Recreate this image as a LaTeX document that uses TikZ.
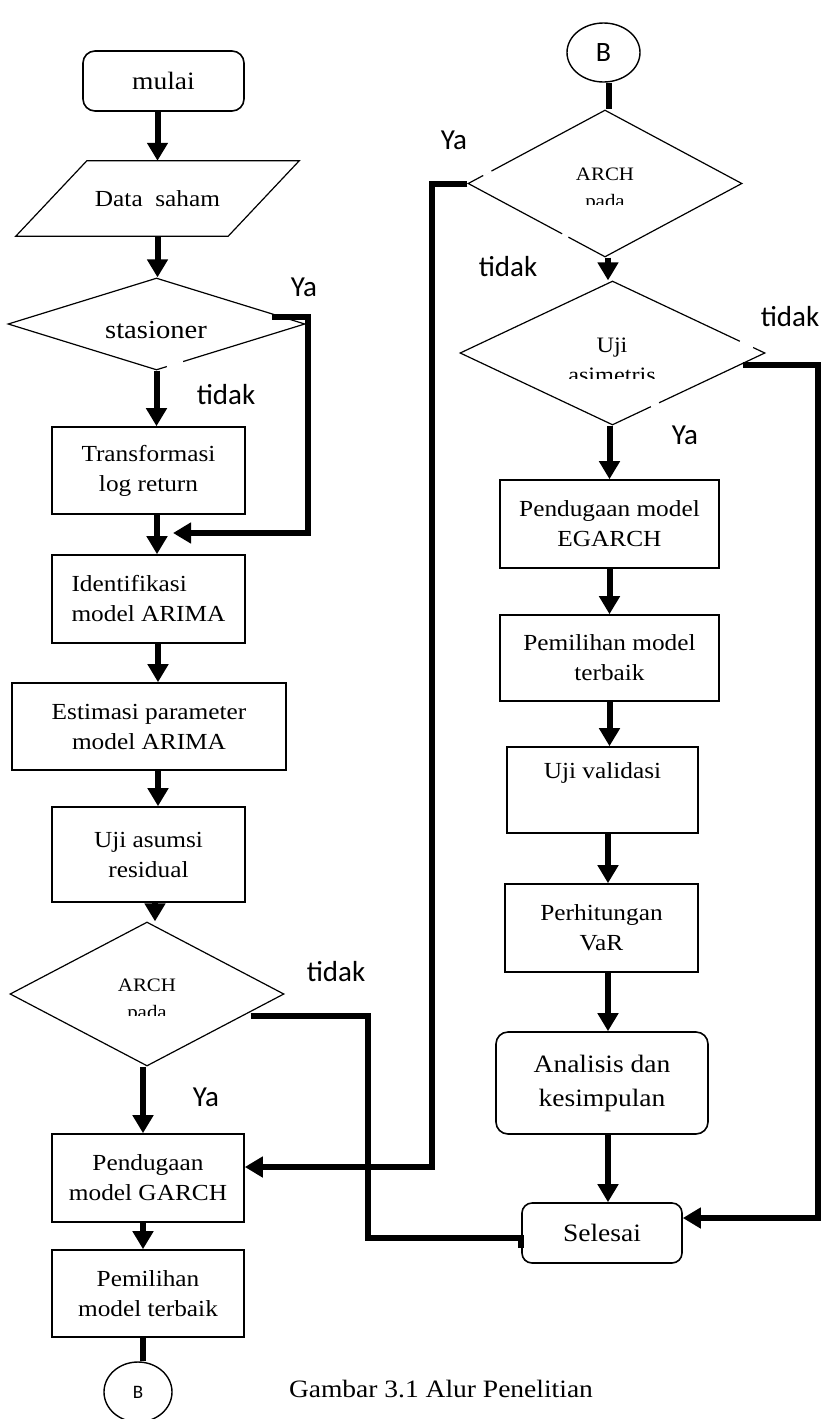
\documentclass[tikz,border=0pt]{standalone}
\usepackage{fontspec}
\setmainfont{Liberation Serif}[FakeStretch=1.1]
\newfontfamily\lblfam{Carlito}
\usetikzlibrary{arrows.meta,shapes.geometric,calc}
\newcommand\boxfont{\fontsize{23}{30}\selectfont}
\newcommand\termfont{\fontsize{25}{30}\selectfont}
\newcommand\analfont{\fontsize{25}{34}\selectfont}
\newcommand\decfont{\fontsize{26}{30}\selectfont}
\newcommand\archfont{\fontsize{19}{27}\selectfont}
\newcommand\ujifont{\fontsize{22}{30}\selectfont}
\newcommand\capfont{\fontsize{25}{30}\selectfont}
\newcommand\lblfont{\lblfam\fontsize{29}{34}\selectfont}
\tikzset{
  box/.style={draw, line width=1.6pt, align=center, font=\boxfont},
  term/.style={box, rounded corners=12pt, font=\termfont},
  dec/.style={draw, diamond, line width=1.2pt, inner sep=0pt},
  conn/.style={draw, ellipse, line width=1.4pt, inner sep=0pt},
  flow/.style={line width=6pt, -{Triangle[length=18pt,width=20pt]}},
  link/.style={line width=6pt},
  lbl/.style={font=\lblfont},
  gap/.style={white, line width=3.5pt},
}
\begin{document}
\begin{tikzpicture}[x=1pt,y=-1pt]
  \useasboundingbox (0,0) rectangle (830,1419);
  % left column
  \node[term, minimum width=161pt, minimum height=60pt] (mulai) at (163.5,81) {mulai};
  \node[minimum width=212pt, minimum height=75pt, font=\boxfont] (data) at (157.5,198.5) {Data~~saham};
  \draw[line width=1.2pt] ($(data.north west)+(35.5,0)$) -- ($(data.north east)+(35.5,0)$)
    -- ($(data.south east)+(-35.5,0)$) -- ($(data.south west)+(-35.5,0)$) -- cycle;
  \node[dec, minimum width=297pt, minimum height=92pt] (stas) at (156.5,324) {};
  \node[font=\decfont] (stastxt) at (156,330) {stasioner};
  \node[box, minimum width=193pt, minimum height=87pt] (trans) at (148.5,470.5) {Transformasi\\log return};
  \node[box, minimum width=193pt, minimum height=88pt, align=left] (ident) at (148.5,599) {Identifikasi\\model ARIMA};
  \node[box, minimum width=274pt, minimum height=87pt] (estim) at (149,726.5) {Estimasi parameter\\model ARIMA};
  \node[box, minimum width=193pt, minimum height=95pt] (asumsi) at (148.5,854.5) {Uji asumsi\\residual};
  \node[dec, minimum width=274pt, minimum height=144pt] (arch1) at (147,994) {};
  \node[font=\archfont, anchor=base] (arch1a) at (147,991.5) {ARCH};
  \begin{scope}
    \clip (40,995) rectangle (250,1015.5);
    \node[font=\archfont, anchor=base] (arch1b) at (147,1018.5) {pada};
  \end{scope}
  \node[box, minimum width=192pt, minimum height=88pt] (garch) at (148,1178) {Pendugaan\\model GARCH};
  \node[box, minimum width=192pt, minimum height=87pt] (pilih1) at (148,1293.5) {Pemilihan\\model terbaik};
  \node[conn, minimum width=68pt, minimum height=60pt, font=\lblfam\fontsize{19}{22}\selectfont] (B1) at (138,1392) {B};
  \node[font=\capfont, anchor=base] (cap) at (441,1397) {Gambar 3.1 Alur Penelitian};
  % right column
  \node[conn, minimum width=73pt, minimum height=59pt, font=\lblfam\fontsize{28}{30}\selectfont] (B2) at (603.5,52.5) {B};
  \node[dec, minimum width=274pt, minimum height=147pt] (arch2) at (605,183.5) {};
  \node[font=\archfont, anchor=base] (arch2a) at (605,180) {ARCH};
  \begin{scope}
    \clip (480,185) rectangle (730,204);
    \node[font=\archfont, anchor=base] (arch2b) at (605,207) {pada};
  \end{scope}
  \node[dec, minimum width=305pt, minimum height=144pt] (asim) at (612.5,353) {};
  \node[font=\ujifont, anchor=base] (asima) at (612,352) {Uji};
  \begin{scope}
    \clip (470,356) rectangle (750,378);
    \node[font=\ujifont, anchor=base] (asimb) at (612,382) {asimetris};
  \end{scope}
  \node[box, minimum width=219pt, minimum height=88pt] (egarch) at (609.5,524) {Pendugaan model\\EGARCH};
  \node[box, minimum width=219pt, minimum height=86pt] (pilih2) at (609.5,658) {Pemilihan model\\terbaik};
  \node[box, minimum width=191pt, minimum height=86pt] (valid) at (602.5,790) {Uji validasi\\\strut};
  \node[box, minimum width=193pt, minimum height=88pt] (hitung) at (601.5,928) {Perhitungan\\VaR};
  \node[term, minimum width=212pt, minimum height=102pt, font=\analfont] (anal) at (602,1083) {Analisis dan\\kesimpulan};
  \node[term, minimum width=160pt, minimum height=60pt, rounded corners=10pt] (sel) at (602,1233) {Selesai};
  % breaks in the diamond edges
  \draw[gap] (167,366.6) -- (183,362);
  \draw[gap] (483,174.8) -- (491,170.5);
  \draw[gap] (562,234.2) -- (568,237.5);
  \draw[gap] (740,341.2) -- (753,347.4);
  \draw[gap] (651,406.6) -- (659,402.9);
  % labels
  \node[lbl] (ya1) at (304,287) {Ya};
  \node[lbl] (no1) at (226,395) {tidak};
  \node[lbl] (no2) at (336,972) {tidak};
  \node[lbl] (ya2) at (206,1097) {Ya};
  \node[lbl] (ya3) at (454,140) {Ya};
  \node[lbl] (no3) at (508,267) {tidak};
  \node[lbl] (no4) at (790,317) {tidak};
  \node[lbl] (ya4) at (685,435) {Ya};
  \coordinate (yajoin) at (173,533);
  % connectors
  \draw[flow] (mulai.south -| data.north) -- (data.north);
  \draw[flow] (data.south) -- (data.south |- stas.north);
  \draw[flow] (stas.south) -- (stas.south |- trans.north);
  \draw[flow] ([xshift=8.5pt]trans.south) -- ([xshift=8.5pt]ident.north);
  \draw[flow] ([xshift=9.5pt]ident.south) -- ([xshift=9pt]estim.north);
  \draw[flow] ([xshift=9pt]estim.south) -- ([xshift=9.5pt]asumsi.north);
  \draw[flow] ([xshift=6.5pt]asumsi.south) -- ([xshift=6.5pt]asumsi.south |- arch1.north);
  \draw[flow] ([xshift=-4pt]arch1.south) -- ([xshift=-5pt]garch.north);
  \draw[flow] ([xshift=-5pt]garch.south) -- ([xshift=-5pt]pilih1.north);
  \draw[link] ([xshift=-5pt]pilih1.south) -- ([xshift=5pt]B1.north);
  \draw[flow] ([xshift=-33.5pt,yshift=7pt]stas.east) -- ++(36,0) |- (yajoin);
  \draw[link] ([xshift=-34pt,yshift=-22pt]arch1.east) -- ++(117,0) |- ([yshift=-5pt]sel.west)
    -- ([yshift=-15pt]sel.west);
  \draw[link] ([xshift=5.5pt]B2.south) -- ([xshift=4pt]arch2.north);
  \draw[flow] (arch2.west) -- ++(-35,0) |- ([yshift=11pt]garch.east);
  \draw[flow] ([xshift=3pt]arch2.south) -- ([xshift=-4.5pt]asim.north);
  \draw[flow] (asim.south -| egarch.north) -- (egarch.north);
  \draw[flow] (egarch.south) -- (pilih2.north);
  \draw[flow] (pilih2.south) -- (pilih2.south |- valid.north);
  \draw[flow] ([xshift=5.5pt]valid.south) -- ([xshift=6.5pt]hitung.north);
  \draw[flow] ([xshift=6.5pt]hitung.south) -- ([xshift=6pt]anal.north);
  \draw[flow] ([xshift=6pt]anal.south) -- ([xshift=6pt]sel.north);
  \draw[flow] ([xshift=-23pt,yshift=-12pt]asim.east) -- ++(75,0) |- ([yshift=15pt]sel.east);
\end{tikzpicture}
\end{document}
